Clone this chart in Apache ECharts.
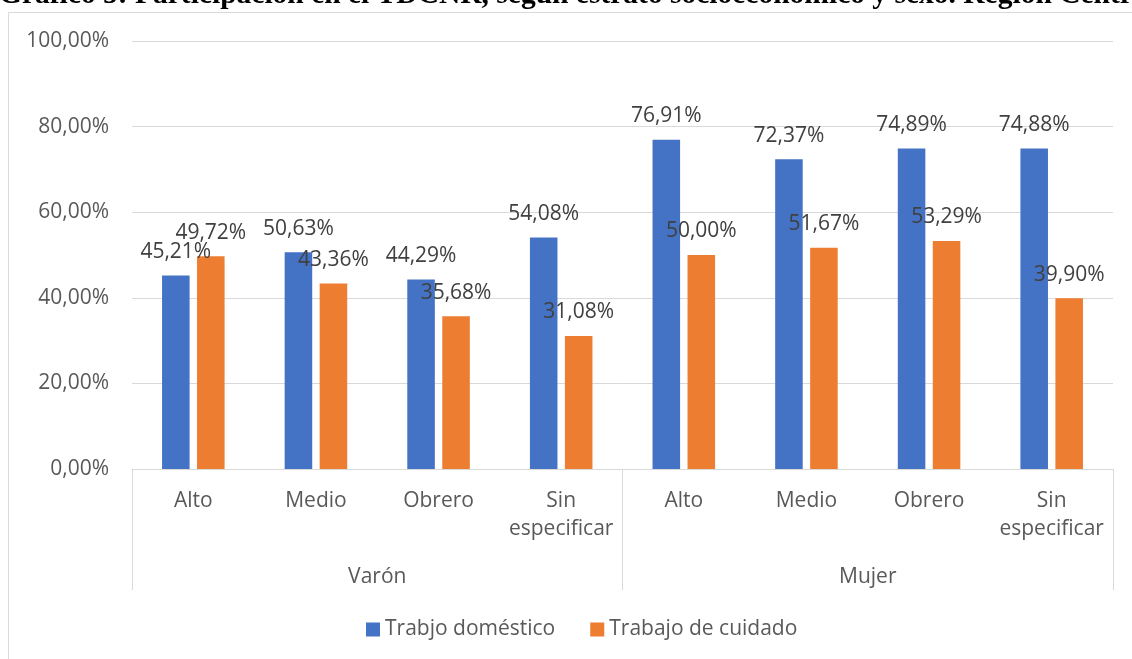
<!DOCTYPE html>
<html lang="es">
<head>
    <meta charset="UTF-8">
    <title>Participación en el TDCNR</title>
    <script src="https://cdn.jsdelivr.net/npm/echarts@6/dist/echarts.min.js"></script>
    <style>
        body { margin: 0; background: #fff; }
        #chart { width: 1132px; height: 659px; }
    </style>
</head>
<body>
    <div id="chart"></div>
    <script>
        // categorías (dos niveles) y valores
        const estratos = ['Alto', 'Medio', 'Obrero', 'Sin\nespecificar', 'Alto', 'Medio', 'Obrero', 'Sin\nespecificar'];
        const sexos = ['Varón', 'Mujer'];
        const seriesNames = ['Trabjo doméstico', 'Trabajo de cuidado'];
        const domestico = [45.21, 50.63, 44.29, 54.08, 76.91, 72.37, 74.89, 74.88];
        const cuidado = [49.72, 43.36, 35.68, 31.08, 50.00, 51.67, 53.29, 39.90];
        const titleText = 'Gráfico 5: Participación en el TDCNR, según estrato socioeconómico y sexo. Región Centro';

        const FONT = 'Open Sans';
        const fmt = v => v.toFixed(2).replace('.', ',') + '%';

        const chart = echarts.init(document.getElementById('chart'));

        const labelCfg = {
            show: true,
            position: 'top',
            distance: 13,
            color: '#404040',
            fontFamily: FONT,
            fontSize: 21,
            formatter: p => fmt(p.value)
        };

        chart.setOption({
            animation: false,
            textStyle: { fontFamily: FONT },
            graphic: [
                {
                    type: 'rect',
                    shape: { x: 8.5, y: 12.5, width: 1200, height: 700 },
                    style: { fill: 'none', stroke: '#d9d9d9', lineWidth: 1 },
                    silent: true
                },
                {
                    type: 'text',
                    left: -1,
                    top: -20,
                    style: {
                        text: titleText,
                        fontFamily: 'Liberation Serif',
                        fontWeight: 'bold',
                        fontSize: 29.5,
                        fill: '#000'
                    },
                    silent: true
                }
            ],
            legend: {
                data: seriesNames,
                left: 361,
                top: 614,
                itemWidth: 14,
                itemHeight: 14,
                itemGap: 35,
                icon: 'rect',
                textStyle: { color: '#595959', fontSize: 21, fontFamily: FONT, padding: [0, 0, 0, 0] }
            },
            grid: { left: 132, right: 19, top: 41, bottom: 190 },
            xAxis: [
                {
                    type: 'category',
                    data: estratos,
                    axisLine: { show: true, lineStyle: { color: '#d9d9d9', width: 1 } },
                    axisTick: { show: false },
                    axisLabel: {
                        interval: 0,
                        margin: 18,
                        color: '#595959',
                        fontSize: 21,
                        lineHeight: 28,
                        fontFamily: FONT
                    }
                },
                {
                    type: 'category',
                    data: sexos,
                    position: 'bottom',
                    axisLine: { show: false },
                    axisTick: { show: true, length: 121, interval: 0, lineStyle: { color: '#d9d9d9', width: 1 } },
                    axisLabel: {
                        interval: 0,
                        margin: 94,
                        color: '#595959',
                        fontSize: 21,
                        lineHeight: 28,
                        fontFamily: FONT
                    }
                }
            ],
            yAxis: {
                type: 'value',
                min: 0,
                max: 100,
                interval: 20,
                axisLine: { show: false },
                axisTick: { show: false },
                splitLine: { lineStyle: { color: '#d9d9d9', width: 1 } },
                axisLabel: {
                    margin: 23,
                    color: '#595959',
                    fontSize: 21,
                    fontFamily: FONT,
                    formatter: v => fmt(v)
                }
            },
            series: [
                {
                    name: seriesNames[0],
                    type: 'bar',
                    data: domestico,
                    barGap: '27%',
                    barCategoryGap: '49%',
                    itemStyle: { color: '#4472C4' },
                    label: labelCfg
                },
                {
                    name: seriesNames[1],
                    type: 'bar',
                    data: cuidado,
                    itemStyle: { color: '#ED7D31' },
                    label: labelCfg
                }
            ]
        });
        window.addEventListener('resize', () => chart.resize());
    </script>
</body>
</html>
